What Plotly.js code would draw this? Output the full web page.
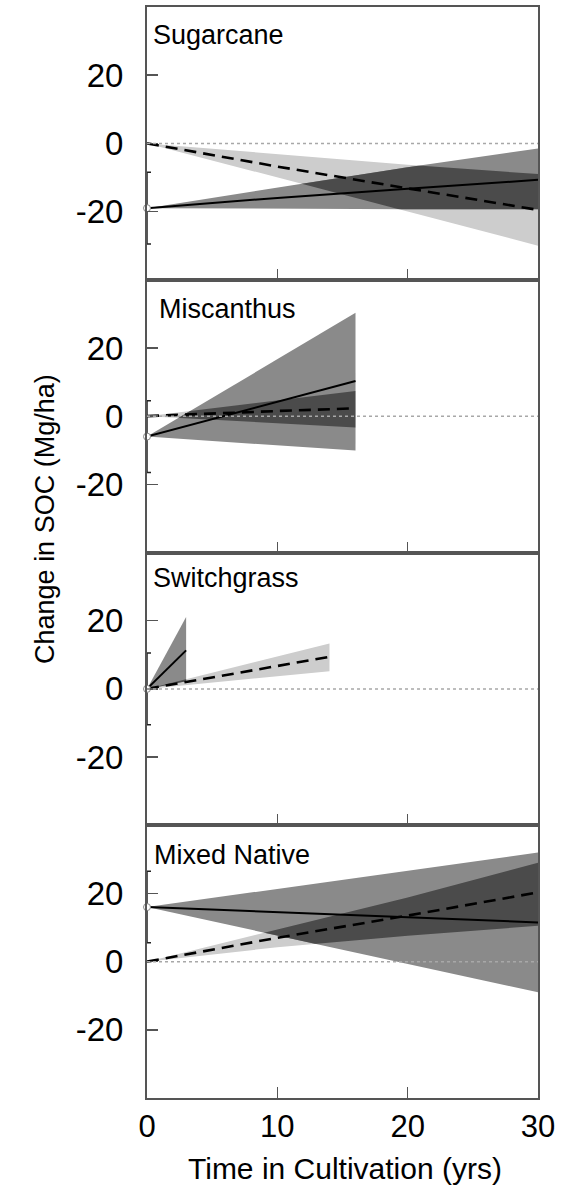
<!DOCTYPE html>
<html>
<head>
<meta charset="utf-8">
<script src="https://cdn.plot.ly/plotly-3.0.1.min.js"></script>
<style>
  html, body { margin: 0; padding: 0; background: #fff; }
  #chart { width: 563px; height: 1199px; }
</style>
</head>
<body>
<div id="chart"></div>
<script>
// ---------------- data ----------------
const panelNames = ["Sugarcane", "Miscanthus", "Switchgrass", "Mixed Native"];
const yTickVals = [-20, 0, 20];
const yTickText = ["-20", "0", "20"];
const xTickVals = [0, 10, 20, 30];
const xTickText = ["0", "10", "20", "30"];
const startError = [10.5];

// Sugarcane
const sugX = [0, 10, 20, 30];
const sugSolid = [-19, -16, -13.3, -10.7];
const sugSolidHi = [-19, -13, -7, -1.5];
const sugSolidLo = [-19, -19.2, -19.3, -19.3];
const sugDash = [0, -6.8, -13.2, -19.5];
const sugDashHi = [0, -3.1, -6.3, -9.0];
const sugDashLo = [0, -10, -20, -30];

// Miscanthus
const misX = [0, 5, 10, 16];
const misSolid = [-6, -0.9, 4.2, 10.3];
const misSolidHi = [-6, 5.4, 16.8, 30.3];
const misSolidLo = [-6, -7.3, -8.6, -10.1];
const misDash = [0, 0.8, 1.5, 2.3];
const misDashHi = [0, 2.3, 4.6, 7.4];
const misDashLo = [0, -1.0, -2.1, -3.3];

// Switchgrass
const swiSolidX = [0, 1, 2, 3];
const swiSolid = [0, 3.8, 7.5, 11.3];
const swiSolidHi = [0, 7.0, 14.0, 21.1];
const swiSolidLo = [0, 0.7, 1.5, 2.2];
const swiDashX = [0, 5, 10, 14];
const swiDash = [0, 3.4, 6.7, 9.4];
const swiDashHi = [0, 4.8, 9.5, 13.3];
const swiDashLo = [0, 1.9, 3.7, 5.2];

// Mixed Native
const mixX = [0, 10, 20, 30];
const mixSolid = [16, 14.5, 13, 11.5];
const mixSolidHi = [16, 21.3, 26.7, 32];
const mixSolidLo = [16, 7.7, -0.6, -9];
const mixDash = [0, 7, 13.5, 20.3];
const mixDashHi = [0, 9.5, 18.8, 29];
const mixDashLo = [0, 4.2, 7.6, 10.5];

const panels = [
  {solidX: sugX, solid: sugSolid, sHi: sugSolidHi, sLo: sugSolidLo, dashX: sugX, dash: sugDash, dHi: sugDashHi, dLo: sugDashLo},
  {solidX: misX, solid: misSolid, sHi: misSolidHi, sLo: misSolidLo, dashX: misX, dash: misDash, dHi: misDashHi, dLo: misDashLo},
  {solidX: swiSolidX, solid: swiSolid, sHi: swiSolidHi, sLo: swiSolidLo, dashX: swiDashX, dash: swiDash, dHi: swiDashHi, dLo: swiDashLo},
  {solidX: mixX, solid: mixSolid, sHi: mixSolidHi, sLo: mixSolidLo, dashX: mixX, dash: mixDash, dHi: mixDashHi, dLo: mixDashLo}
];

// ---------------- styling ----------------
const FONT = "Liberation Sans, Arial, sans-serif";
const LIGHT = "#cdcdcd", MID = "#8a8a8a", DARK = "#4b4b4b";
const AXIS = "#555555";

function band(xs, hi, lo) {
  return { x: xs.concat(xs.slice().reverse()), y: hi.concat(lo.slice().reverse()) };
}

const data = [];
panels.forEach((p, i) => {
  const n = i + 1;
  const xa = n === 1 ? "x" : "x" + n;
  const ya = n === 1 ? "y" : "y" + n;
  const lb = band(p.dashX, p.dHi, p.dLo);
  const mb = band(p.solidX, p.sHi, p.sLo);
  data.push({x: lb.x, y: lb.y, xaxis: xa, yaxis: ya, type: "scatter", mode: "lines",
    fill: "toself", fillcolor: LIGHT, line: {width: 0}, hoverinfo: "skip", showlegend: false, uid: "light" + n});
  data.push({x: mb.x, y: mb.y, xaxis: xa, yaxis: ya, type: "scatter", mode: "lines",
    fill: "toself", fillcolor: MID, line: {width: 0}, hoverinfo: "skip", showlegend: false, uid: "mid" + n});
  data.push({x: p.dashX, y: p.dash, xaxis: xa, yaxis: ya, type: "scatter", mode: "lines",
    line: {color: "#000", width: 2.6, dash: "12px,7px"}, showlegend: false, uid: "dash" + n});
  data.push({x: p.solidX, y: p.solid, xaxis: xa, yaxis: ya, type: "scatter", mode: "lines",
    line: {color: "#000", width: 2}, showlegend: false, uid: "solid" + n});
  data.push({x: p.solidX.slice(0, 1), y: p.solid.slice(0, 1), xaxis: xa, yaxis: ya, type: "scatter", mode: "markers",
    marker: {size: 7, color: "#fff", line: {color: "#888", width: 1}},
    error_y: {type: "data", array: startError, visible: true, color: "#222", thickness: 1.5, width: 4},
    cliponaxis: false, showlegend: false, uid: "start" + n});
});

const layout = {
  width: 563, height: 1199,
  margin: {l: 147, r: 25, t: 7, b: 101},
  paper_bgcolor: "#fff", plot_bgcolor: "#fff",
  font: {family: FONT, color: "#000"},
  showlegend: false,
  shapes: [],
  annotations: []
};

const domains = [[0.75, 1], [0.5, 0.75], [0.25, 0.5], [0, 0.25]];
const labelPos = [[0.010, 0.9743], [0.026, 0.7232], [0.010, 0.4762], [0.013, 0.2227]];
for (let i = 0; i < 4; i++) {
  const n = i + 1;
  const xk = n === 1 ? "xaxis" : "xaxis" + n;
  const yk = n === 1 ? "yaxis" : "yaxis" + n;
  layout[xk] = {
    domain: [0, 1], anchor: n === 1 ? "y" : "y" + n, range: [0, 30],
    tickvals: xTickVals, ticktext: xTickText, showticklabels: n === 4,
    ticks: "inside", ticklen: 11, tickwidth: 1.5, tickcolor: AXIS,
    showline: true, mirror: true, linecolor: AXIS, linewidth: 2,
    showgrid: false, zeroline: false,
    tickfont: {size: 31, family: FONT, color: "#000"}, ticklabelstandoff: 0
  };
  layout[yk] = {
    domain: domains[i], anchor: n === 1 ? "x" : "x" + n, range: [-40, 40],
    tickvals: yTickVals, ticktext: yTickText,
    ticks: "inside", ticklen: 11, tickwidth: 1.5, tickcolor: AXIS,
    showline: true, mirror: true, linecolor: AXIS, linewidth: 2,
    showgrid: false, zeroline: false,
    tickfont: {size: 33, family: FONT, color: "#000"}, ticklabelstandoff: 15
  };
  layout.shapes.push({type: "line", xref: (n === 1 ? "x" : "x" + n) + " domain", yref: n === 1 ? "y" : "y" + n,
    x0: 0, x1: 1, y0: 0, y1: 0, layer: "above", line: {color: "#a8a8a8", width: 1.5, dash: "dot"}});
  layout.annotations.push({text: panelNames[i], xref: "paper", yref: "paper", x: labelPos[i][0], y: labelPos[i][1],
    xanchor: "left", yanchor: "middle", showarrow: false, font: {size: 27, family: FONT, color: "#000"}});
}
layout.annotations.push({text: "Change in SOC (Mg/ha)", xref: "paper", yref: "paper", x: -0.261, y: 0.5307,
  xanchor: "center", yanchor: "middle", textangle: -90, showarrow: false, font: {size: 27, family: FONT, color: "#000"}});
layout.annotations.push({text: "Time in Cultivation (yrs)", xref: "paper", yref: "paper", x: 0.506, y: -0.0642,
  xanchor: "center", yanchor: "middle", showarrow: false, font: {size: 30, family: FONT, color: "#000"}});

// darker shade where the two uncertainty bands overlap
function addOverlaps(gd) {
  const ns = "http://www.w3.org/2000/svg";
  const groups = Array.from(gd.querySelectorAll(".scatterlayer .trace"));
  const byUid = {};
  groups.forEach(g => { const d = g.__data__; if (d && d[0] && d[0].trace) byUid[d[0].trace.uid] = g; });
  const svg = gd.querySelector("svg.main-svg");
  let defs = svg.querySelector("defs");
  if (!defs) { defs = document.createElementNS(ns, "defs"); svg.insertBefore(defs, svg.firstChild); }
  for (let n = 1; n <= 4; n++) {
    const lg = byUid["light" + n], mg = byUid["mid" + n];
    if (!lg || !mg) continue;
    const lf = lg.querySelector(".js-fill"), mf = mg.querySelector(".js-fill");
    if (!lf || !mf) continue;
    const cp = document.createElementNS(ns, "clipPath");
    cp.setAttribute("id", "overlapclip" + n);
    const cpp = document.createElementNS(ns, "path");
    cpp.setAttribute("d", mf.getAttribute("d"));
    cp.appendChild(cpp);
    defs.appendChild(cp);
    const ov = document.createElementNS(ns, "path");
    ov.setAttribute("d", lf.getAttribute("d"));
    ov.setAttribute("style", "fill:" + DARK + ";stroke:none;opacity:1");
    ov.setAttribute("clip-path", "url(#overlapclip" + n + ")");
    mf.parentNode.appendChild(ov);
  }
}

Plotly.newPlot("chart", data, layout, {staticPlot: true, displayModeBar: false}).then(addOverlaps);
</script>
</body>
</html>
